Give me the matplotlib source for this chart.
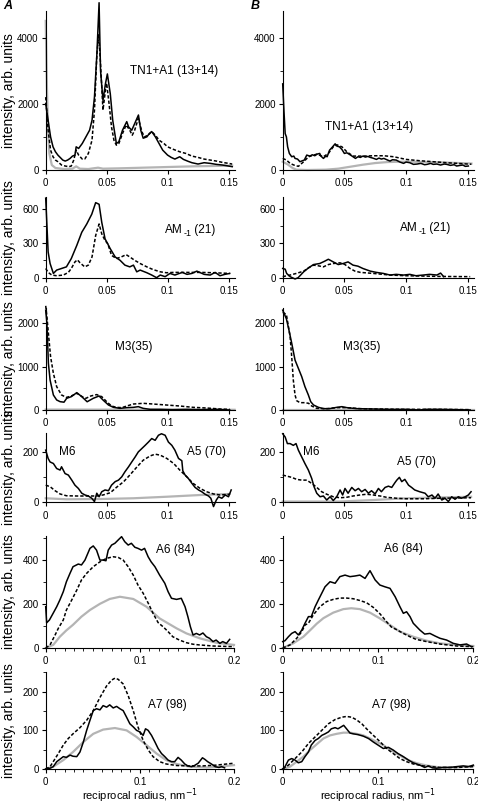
import matplotlib
matplotlib.use("Agg")
import matplotlib.pyplot as plt
from matplotlib.ticker import MultipleLocator, FixedLocator

plt.rcParams['font.family'] = ['Liberation Sans', 'DejaVu Sans']

# ---------------- data ----------------
# row 1: TN1+A1 (13+14)
A1_sol_x = [0, 0.002, 0.004, 0.006, 0.008, 0.010, 0.014, 0.016, 0.018, 0.020, 0.022, 0.024, 0.025, 0.027, 0.030,
            0.033, 0.036, 0.038, 0.040, 0.042, 0.0438, 0.045, 0.047, 0.049, 0.0506, 0.053, 0.055, 0.058, 0.060,
            0.063, 0.0665, 0.068, 0.0706, 0.073, 0.0761, 0.078, 0.080, 0.083, 0.085, 0.087, 0.090, 0.093, 0.096,
            0.100, 0.103, 0.106, 0.110, 0.113, 0.117, 0.120, 0.125, 0.130, 0.135, 0.140, 0.145, 0.150, 0.153]
A1_sol_y = [2000, 1500, 1000, 700, 550, 450, 300, 270, 300, 350, 420, 450, 700, 650, 800,
            1000, 1200, 1500, 2200, 3500, 5050, 3000, 2100, 2600, 2900, 2300, 1500, 800, 850,
            1200, 1460, 1300, 1200, 1400, 1660, 1200, 960, 1000, 1100, 1160, 1000, 800, 600,
            450, 380, 330, 400, 320, 260, 220, 180, 220, 200, 170, 150, 120, 100]
A1_das_x = [0, 0.002, 0.004, 0.006, 0.008, 0.010, 0.013, 0.016, 0.019, 0.021, 0.023, 0.025, 0.027, 0.030,
            0.032, 0.035, 0.038, 0.040, 0.042, 0.0435, 0.045, 0.047, 0.049, 0.050, 0.052, 0.054, 0.056, 0.058,
            0.060, 0.063, 0.066, 0.069, 0.071, 0.073, 0.076, 0.079, 0.081, 0.084, 0.087, 0.090, 0.093, 0.097,
            0.100, 0.105, 0.110, 0.115, 0.120, 0.125, 0.130, 0.135, 0.140, 0.145, 0.150, 0.153]
A1_das_y = [2200, 1200, 600, 400, 300, 250, 150, 120, 100, 120, 300, 600, 450, 330,
            330, 500, 900, 1800, 3500, 4080, 3200, 1810, 2400, 2620, 2000, 1300, 900, 750,
            800, 1100, 1360, 1200, 1050, 1200, 1560, 1150, 1000, 1050, 1160, 1050, 900, 800,
            700, 620, 550, 500, 420, 380, 330, 300, 270, 230, 200, 180]
A1_gry_x = [0, 0.001, 0.002, 0.003, 0.005, 0.008, 0.015, 0.022, 0.025, 0.028, 0.035, 0.043, 0.047, 0.060,
            0.080, 0.100, 0.120, 0.150, 0.153]
A1_gry_y = [4500, 2500, 1200, 500, 150, 60, 30, 40, 110, 40, 30, 70, 40, 50, 70, 90, 110, 130, 135]

B1_sol_x = [0, 0.001, 0.002, 0.003, 0.004, 0.0054, 0.0073, 0.009, 0.010, 0.012, 0.014, 0.016, 0.0175, 0.0195,
            0.022, 0.024, 0.026, 0.028, 0.030, 0.031, 0.033, 0.035, 0.036, 0.038, 0.040, 0.0425, 0.044, 0.046,
            0.048, 0.050, 0.052, 0.055, 0.057, 0.059, 0.061, 0.063, 0.065, 0.067, 0.069, 0.071, 0.073, 0.076,
            0.078, 0.080, 0.082, 0.085, 0.087, 0.089, 0.092, 0.095, 0.098, 0.100, 0.103, 0.106, 0.109, 0.112,
            0.115, 0.117, 0.120, 0.122, 0.125, 0.128, 0.131, 0.133, 0.136, 0.139, 0.141, 0.144, 0.146, 0.148,
            0.1505]
B1_sol_y = [2600, 1800, 1100, 1000, 700, 500, 400, 420, 350, 330, 250, 280, 300, 450,
            420, 460, 430, 480, 500, 420, 350, 420, 400, 600, 680, 790, 720, 700,
            620, 500, 520, 450, 400, 350, 400, 380, 420, 390, 410, 380, 360, 320,
            360, 330, 350, 300, 270, 310, 300, 240, 200, 240, 220, 170, 180, 200,
            160, 170, 200, 170, 180, 150, 180, 170, 140, 160, 120, 140, 150, 110,
            120]
B1_das_x = [0, 0.003, 0.006, 0.009, 0.0127, 0.017, 0.021, 0.0276, 0.033, 0.037, 0.041, 0.044, 0.048, 0.052,
            0.057, 0.065, 0.0735, 0.082, 0.090, 0.100, 0.111, 0.122, 0.133, 0.150, 0.153]
B1_das_y = [350, 300, 200, 150, 110, 250, 400, 480, 400, 500, 700, 760, 700, 550,
            420, 420, 430, 430, 400, 320, 280, 250, 220, 180, 175]
B1_gry_x = [0, 0.004, 0.008, 0.011, 0.020, 0.035, 0.045, 0.055, 0.065, 0.075, 0.085, 0.095, 0.105, 0.120,
            0.135, 0.150, 0.153]
B1_gry_y = [250, 170, 60, 10, 0, 10, 40, 100, 160, 210, 240, 250, 250, 240, 220, 200, 195]

# row 2: AM-1 (21)
A2_sol_x = [0, 0.002, 0.0036, 0.0063, 0.009, 0.013, 0.017, 0.021, 0.0255, 0.0296, 0.0337, 0.0378, 0.041,
            0.0438, 0.046, 0.0487, 0.053, 0.057, 0.061, 0.065, 0.069, 0.072, 0.0747, 0.0775, 0.083, 0.087,
            0.091, 0.094, 0.098, 0.102, 0.106, 0.112, 0.116, 0.120, 0.124, 0.130, 0.135, 0.139, 0.143, 0.147,
            0.151]
A2_sol_y = [690, 223, 123, 37, 66, 80, 94, 166, 280, 394, 466, 551, 651,
            637, 480, 337, 251, 180, 151, 109, 94, 109, 51, 66, 43, 23,
            0, 23, 9, 37, 23, 46, 29, 37, 57, 29, 23, 46, 17, 29,
            37]
A2_das_x = [0, 0.002, 0.005, 0.009, 0.0145, 0.0186, 0.021, 0.024, 0.026, 0.028, 0.032, 0.035, 0.038, 0.041,
            0.0438, 0.046, 0.0487, 0.051, 0.054, 0.058, 0.062, 0.066, 0.069, 0.073, 0.0775, 0.083, 0.088,
            0.094, 0.099, 0.105, 0.116, 0.127, 0.138, 0.151]
A2_das_y = [80, 46, 23, 17, 23, 46, 80, 137, 155, 131, 94, 109, 180, 366,
            466, 380, 323, 294, 194, 166, 180, 200, 180, 151, 123, 94, 71,
            51, 43, 46, 46, 46, 43, 37]

B2_sol_x = [0, 0.002, 0.0032, 0.006, 0.010, 0.0125, 0.017, 0.021, 0.025, 0.030, 0.034, 0.037, 0.041, 0.045,
            0.049, 0.053, 0.057, 0.061, 0.065, 0.071, 0.076, 0.0816, 0.087, 0.092, 0.098, 0.103, 0.108, 0.114,
            0.119, 0.125, 0.128, 0.1305]
B2_sol_y = [80, 74, 37, 9, -11, 0, 51, 86, 114, 123, 143, 160, 137, 114,
            123, 137, 109, 100, 80, 57, 46, 37, 23, 29, 23, 29, 17, 23,
            29, 23, 40, 9]
B2_das_x = [0, 0.006, 0.011, 0.017, 0.021, 0.025, 0.029, 0.033, 0.037, 0.041, 0.0465, 0.0505, 0.0546, 0.0586,
            0.063, 0.0735, 0.087, 0.100, 0.114, 0.1276, 0.152]
B2_das_y = [9, 23, 37, 57, 86, 109, 103, 94, 114, 123, 129, 114, 80, 57,
            46, 37, 23, 17, 14, 11, 9]

# row 3: M3(35)
A3_sol_x = [0, 0.001, 0.0022, 0.0036, 0.0063, 0.009, 0.0118, 0.015, 0.0172, 0.021, 0.0255, 0.0296, 0.034,
            0.039, 0.0438, 0.047, 0.0515, 0.0556, 0.061, 0.0665, 0.072, 0.076, 0.080, 0.0857, 0.094, 0.104,
            0.116, 0.127, 0.140, 0.151]
A3_sol_y = [2300, 2000, 1080, 690, 346, 231, 192, 180, 269, 307, 400, 307, 190,
            269, 323, 231, 115, 61, 38, 54, 61, 77, 38, 15, 15, 8,
            15, 8, 15, 0]
A3_das_x = [0, 0.001, 0.0022, 0.004, 0.0063, 0.009, 0.013, 0.017, 0.021, 0.0255, 0.030, 0.033, 0.037,
            0.0419, 0.046, 0.050, 0.054, 0.058, 0.0625, 0.0665, 0.072, 0.080, 0.088, 0.099, 0.110, 0.121,
            0.132, 0.143, 0.151]
A3_das_y = [2400, 2150, 1770, 1230, 846, 538, 346, 290, 323, 385, 307, 269, 323,
            355, 307, 192, 92, 61, 54, 92, 138, 154, 138, 115, 92, 61,
            46, 23, 15]
A3_gry_x = [0, 0.155]
A3_gry_y = [10, 5]

B3_sol_x = [0, 0.003, 0.005, 0.0073, 0.010, 0.0127, 0.0154, 0.018, 0.0208, 0.0227, 0.025, 0.029, 0.033,
            0.038, 0.0438, 0.048, 0.052, 0.060, 0.0735, 0.087, 0.100, 0.111, 0.116, 0.127, 0.141, 0.152]
B3_sol_y = [2300, 2100, 1850, 1540, 1150, 960, 770, 540, 346, 192, 115, 61, 31,
            31, 61, 77, 54, 31, 23, 15, 15, 0, 15, 15, 8, 0]
B3_das_x = [0, 0.003, 0.006, 0.0073, 0.0086, 0.010, 0.0113, 0.014, 0.018, 0.021, 0.0235, 0.0276, 0.036,
            0.0438, 0.052, 0.063, 0.0735, 0.100, 0.1276, 0.152]
B3_das_y = [2250, 2200, 1690, 1230, 690, 346, 215, 169, 169, 154, 92, 38, 31,
            54, 54, 31, 23, 15, 15, 8]
B3_gry_x = [0, 0.155]
B3_gry_y = [5, 5]

# row 4: M6 / A5 (70)
A4_sol_x = [0, 0.002, 0.0036, 0.0063, 0.009, 0.0118, 0.013, 0.0159, 0.0186, 0.0214, 0.024, 0.0268, 0.0296,
            0.0323, 0.035, 0.0378, 0.040, 0.0419, 0.0438, 0.046, 0.0487, 0.0515, 0.054, 0.057, 0.0597, 0.0624,
            0.065, 0.068, 0.0706, 0.0734, 0.076, 0.0788, 0.0816, 0.0843, 0.087, 0.0898, 0.0925, 0.095, 0.098,
            0.1007, 0.1035, 0.106, 0.109, 0.1117, 0.1125, 0.1144, 0.117, 0.120, 0.1226, 0.1254, 0.128, 0.1308,
            0.1336, 0.1355, 0.1377, 0.140, 0.1418, 0.1445, 0.1473, 0.150, 0.1522]
A4_sol_y = [207, 174, 160, 154, 134, 128, 141, 114, 108, 88, 68, 55, 36,
            29, 25, 16, 3, 36, 22, 42, 49, 46, 68, 82, 88, 101,
            121, 141, 160, 180, 200, 213, 226, 239, 253, 246, 266, 272, 266,
            239, 226, 207, 174, 165, 125, 108, 95, 75, 59, 49, 42, 32,
            25, 16, -17, 9, 22, 16, 29, 22, 49]
A4_das_x = [0, 0.0036, 0.0077, 0.0118, 0.017, 0.0255, 0.034, 0.042, 0.047, 0.053, 0.058, 0.064, 0.069,
            0.075, 0.080, 0.0857, 0.0898, 0.094, 0.0994, 0.105, 0.110, 0.1158, 0.121, 0.1267, 0.132, 0.1377,
            0.143, 0.151]
A4_das_y = [68, 62, 46, 33, 26, 25, 25, 25, 29, 38, 59, 82, 108,
            141, 167, 184, 191, 187, 174, 154, 128, 101, 75, 55, 42, 33,
            29, 32]
A4_gry_x = [0, 0.017, 0.045, 0.072, 0.099, 0.127, 0.151]
A4_gry_y = [16, 12, 13, 16, 22, 29, 33]

B4_sol_x = [0, 0.002, 0.0038, 0.006, 0.0086, 0.0108, 0.0127, 0.0154, 0.018, 0.0208, 0.0235, 0.0254, 0.0276,
            0.0303, 0.033, 0.0357, 0.0384, 0.041, 0.0438, 0.0465, 0.0486, 0.0505, 0.053, 0.056, 0.0587, 0.0614,
            0.064, 0.0668, 0.0695, 0.072, 0.0749, 0.0776, 0.080, 0.083, 0.0857, 0.0884, 0.091, 0.0925, 0.0946,
            0.0965, 0.099, 0.102, 0.1045, 0.107, 0.111, 0.1154, 0.118, 0.121, 0.1235, 0.126, 0.129, 0.1316,
            0.1343, 0.137, 0.1397, 0.1424, 0.145, 0.148, 0.1505, 0.1527]
B4_sol_y = [272, 259, 233, 233, 226, 233, 207, 180, 154, 128, 95, 62, 36,
            22, 25, 9, 22, 7, 22, 49, 29, 55, 36, 59, 46, 55,
            42, 51, 36, 46, 33, 55, 42, 59, 64, 59, 78, 88, 99,
            82, 91, 68, 59, 49, 42, 36, 22, 29, 16, 33, 9, 16,
            3, 22, 12, 22, 16, 22, 29, 42]
B4_das_x = [0, 0.0032, 0.0073, 0.0113, 0.0154, 0.0195, 0.0235, 0.0276, 0.0316, 0.0357, 0.041, 0.0465, 0.052,
            0.057, 0.0627, 0.068, 0.0735, 0.079, 0.084, 0.0924, 0.100, 0.114, 0.1276, 0.141, 0.1527]
B4_das_y = [108, 104, 99, 91, 88, 88, 75, 59, 42, 32, 22, 18, 20,
            25, 29, 32, 29, 25, 20, 16, 14, 14, 16, 17, 18]
B4_gry_x = [0, 0.046, 0.0735, 0.100, 0.1527]
B4_gry_y = [3, 3, 9, 16, 22]

# row 5: A6 (84)
A5_sol_x = [0, 0.001, 0.004, 0.008, 0.0117, 0.015, 0.0187, 0.022, 0.0258, 0.029, 0.0346, 0.038, 0.0417,
            0.047, 0.0505, 0.054, 0.0576, 0.061, 0.064, 0.0664, 0.070, 0.0735, 0.077, 0.0806, 0.084, 0.0876,
            0.091, 0.0947, 0.098, 0.1018, 0.105, 0.1088, 0.112, 0.116, 0.121, 0.1265, 0.130, 0.1336, 0.139,
            0.144, 0.148, 0.151, 0.1537, 0.1565, 0.160, 0.1635, 0.167, 0.1707, 0.174, 0.1777, 0.181, 0.185,
            0.188, 0.192, 0.1954]
A5_sol_y = [187, 114, 127, 158, 187, 217, 255, 300, 338, 368, 380, 376, 398,
            451, 462, 443, 398, 398, 395, 443, 466, 474, 489, 504, 481, 466,
            474, 456, 451, 443, 451, 413, 390, 368, 330, 293, 255, 225, 220,
            225, 187, 142, 96, 59, 66, 59, 68, 51, 44, 29, 36, 21,
            29, 21, 39]
A5_das_x = [0, 0.0046, 0.010, 0.0134, 0.0187, 0.022, 0.0276, 0.033, 0.038, 0.0435, 0.0505, 0.0576, 0.0647,
            0.0717, 0.077, 0.0823, 0.0876, 0.093, 0.098, 0.1035, 0.109, 0.114, 0.1194, 0.125, 0.130, 0.135,
            0.142, 0.1495, 0.1565, 0.163, 0.178, 0.200]
A5_das_y = [0, 14, 59, 89, 127, 172, 217, 262, 308, 338, 368, 390, 406,
            413, 410, 398, 368, 330, 285, 248, 202, 157, 115, 95, 74, 51,
            36, 24, 17, 14, 9, 6]
A5_gry_x = [0, 0.008, 0.015, 0.022, 0.029, 0.038, 0.047, 0.0576, 0.068, 0.0788, 0.093, 0.107, 0.121,
            0.139, 0.1495, 0.1636, 0.181, 0.200]
A5_gry_y = [0, 14, 51, 80, 105, 142, 172, 200, 222, 232, 222, 187, 134,
            89, 66, 44, 24, 14]

B5_sol_x = [0, 0.0024, 0.006, 0.0094, 0.013, 0.0164, 0.020, 0.0234, 0.027, 0.030, 0.034, 0.0374, 0.041,
            0.0444, 0.0497, 0.055, 0.060, 0.0654, 0.0706, 0.0759, 0.081, 0.0864, 0.0916, 0.097, 0.102, 0.1073,
            0.1126, 0.118, 0.123, 0.1266, 0.130, 0.1336, 0.137, 0.1406, 0.144, 0.149, 0.1545, 0.160, 0.165,
            0.172, 0.179, 0.186, 0.193, 0.198]
B5_sol_y = [29, 33, 51, 66, 74, 59, 81, 112, 142, 142, 187, 217, 248,
            277, 300, 293, 323, 330, 323, 326, 330, 315, 350, 308, 285, 277,
            270, 232, 187, 157, 164, 142, 112, 96, 81, 63, 66, 54, 44,
            36, 21, 14, 18, 6]
B5_das_x = [0, 0.0077, 0.0147, 0.020, 0.0234, 0.027, 0.032, 0.039, 0.046, 0.053, 0.060, 0.067, 0.074,
            0.081, 0.088, 0.095, 0.102, 0.109, 0.114, 0.120, 0.1266, 0.1336, 0.140, 0.151, 0.165, 0.1825,
            0.200]
B5_das_y = [0, 14, 44, 74, 104, 112, 149, 187, 210, 220, 226, 226, 223,
            215, 205, 184, 155, 119, 95, 82, 66, 51, 39, 29, 18, 9,
            6]
B5_gry_x = [0, 0.011, 0.0217, 0.0287, 0.0357, 0.0427, 0.053, 0.0636, 0.072, 0.081, 0.0916, 0.102, 0.1126,
            0.123, 0.137, 0.151, 0.165, 0.1825, 0.200]
B5_gry_y = [0, 21, 51, 80, 110, 135, 160, 176, 180, 176, 160, 134, 104,
            74, 51, 33, 21, 14, 9]

# row 6: A7 (98)
A6_sol_x = [0, 0.0046, 0.008, 0.0117, 0.015, 0.0187, 0.022, 0.0258, 0.029, 0.033, 0.0364, 0.040, 0.0435,
            0.047, 0.0505, 0.054, 0.0576, 0.061, 0.0647, 0.068, 0.0717, 0.0753, 0.0788, 0.0823, 0.0859, 0.0894,
            0.093, 0.0965, 0.100, 0.1035, 0.106, 0.1088, 0.1124, 0.116, 0.1194, 0.123, 0.1265, 0.130, 0.1336,
            0.137, 0.1406, 0.144, 0.1477, 0.151, 0.155, 0.158, 0.162, 0.1665, 0.169, 0.172, 0.176, 0.180,
            0.184, 0.187, 0.190]
A6_sol_y = [0, 2, 6, 19, 25, 32, 30, 36, 33, 32, 44, 70, 100,
            126, 151, 156, 153, 164, 160, 166, 158, 162, 156, 151, 134, 117,
            109, 100, 96, 87, 104, 100, 87, 70, 53, 40, 32, 23, 19,
            19, 30, 23, 13, 8, 6, 9, 15, 29, 25, 19, 13, 6,
            4, 6, 3]
A6_das_x = [0, 0.0046, 0.008, 0.0134, 0.0187, 0.024, 0.029, 0.0364, 0.0435, 0.0505, 0.0576, 0.0647, 0.070,
            0.0735, 0.077, 0.0823, 0.0876, 0.093, 0.098, 0.1035, 0.109, 0.114, 0.121, 0.128, 0.139, 0.153,
            0.167, 0.181, 0.200]
A6_das_y = [0, 6, 19, 40, 62, 79, 91, 107, 126, 151, 185, 215, 230,
            235, 232, 220, 190, 151, 109, 74, 49, 32, 19, 13, 9, 8,
            8, 10, 15]
A6_gry_x = [0, 0.008, 0.0187, 0.029, 0.040, 0.0505, 0.061, 0.0735, 0.0859, 0.0965, 0.107, 0.1177, 0.128,
            0.139, 0.153, 0.171, 0.185, 0.200]
A6_gry_y = [0, 6, 23, 44, 70, 91, 102, 106, 100, 83, 62, 40, 23,
            13, 6, 4, 6, 10]

B6_sol_x = [0, 0.0024, 0.006, 0.0094, 0.013, 0.0164, 0.020, 0.0234, 0.027, 0.030, 0.034, 0.0374, 0.041,
            0.0444, 0.048, 0.051, 0.055, 0.058, 0.062, 0.064, 0.067, 0.0706, 0.074, 0.079, 0.0846, 0.090,
            0.095, 0.100, 0.1056, 0.111, 0.116, 0.121, 0.1266, 0.132, 0.137, 0.144, 0.149, 0.153, 0.157,
            0.1615, 0.168, 0.1755, 0.182, 0.1895, 0.195, 0.200]
B6_sol_y = [0, 6, 23, 27, 23, 16, 19, 32, 44, 62, 74, 79, 87,
            91, 96, 104, 107, 104, 110, 113, 104, 93, 91, 89, 85, 79,
            70, 62, 53, 56, 49, 40, 32, 23, 16, 10, 4, 8, 3,
            2, 4, 4, 6, 8, 6, 10]
B6_das_x = [0, 0.006, 0.013, 0.020, 0.027, 0.034, 0.041, 0.048, 0.055, 0.062, 0.067, 0.0724, 0.0776,
            0.083, 0.088, 0.0934, 0.0986, 0.104, 0.109, 0.116, 0.123, 0.130, 0.137, 0.1475, 0.165, 0.1825,
            0.200]
B6_das_y = [0, 10, 27, 44, 66, 83, 100, 117, 128, 134, 136, 134, 127,
            117, 104, 91, 79, 66, 53, 40, 27, 19, 13, 8, 4, 4,
            6]
B6_gry_x = [0, 0.0077, 0.0147, 0.0217, 0.0287, 0.0357, 0.0427, 0.0497, 0.0566, 0.0636, 0.0706, 0.0776,
            0.0846, 0.0916, 0.0986, 0.1056, 0.1126, 0.1196, 0.1266, 0.1336, 0.1406, 0.151, 0.165, 0.1825, 0.200]
B6_gry_y = [0, 6, 19, 32, 49, 64, 79, 87, 91, 94, 94, 91,
            87, 79, 70, 62, 49, 40, 30, 21, 15, 9, 4, 4, 8]

titles = ['TN1+A1 (13+14)', None, 'M3(35)', 'A5 (70)', 'A6 (84)', 'A7 (98)']
ylims = [4800, 700, 2350, 275, 507, 251]
ymajor = [2000, 300, 1000, 200, 200, 100]
yminor = [1000, 150, 500, 100, 100, 50]

# ---------------- layout (pixels) ----------------
W, H = 478, 802
fig = plt.figure(figsize=(W / 100, H / 100), dpi=100)

row_px = [(11, 170), (197, 277.7), (308, 410), (433, 502.3), (536, 648), (672, 769)]
col_px = [(45.7, 188.9, 188.3), (282.7, 191.2, 190.6)]
FS = 8.5

def px_axes(x0, w, top, bot):
    return fig.add_axes([x0 / W, 1 - bot / H, w / W, (bot - top) / H])

def ftext(x, y, s, size=FS, **kw):
    return fig.text(x / W, 1 - y / H, s, fontsize=size, va='center', ha='left', **kw)

BLACK = '#000000'
GREY = '#b4b4b4'

panels = {
    (0, 0): [(A1_gry_x, A1_gry_y, 'g'), (A1_das_x, A1_das_y, 'd'), (A1_sol_x, A1_sol_y, 's')],
    (0, 1): [(B1_gry_x, B1_gry_y, 'g'), (B1_das_x, B1_das_y, 'd'), (B1_sol_x, B1_sol_y, 's')],
    (1, 0): [(A2_das_x, A2_das_y, 'd'), (A2_sol_x, A2_sol_y, 's')],
    (1, 1): [(B2_das_x, B2_das_y, 'd'), (B2_sol_x, B2_sol_y, 's')],
    (2, 0): [(A3_gry_x, A3_gry_y, 'g'), (A3_das_x, A3_das_y, 'd'), (A3_sol_x, A3_sol_y, 's')],
    (2, 1): [(B3_gry_x, B3_gry_y, 'g'), (B3_das_x, B3_das_y, 'd'), (B3_sol_x, B3_sol_y, 's')],
    (3, 0): [(A4_gry_x, A4_gry_y, 'g'), (A4_das_x, A4_das_y, 'd'), (A4_sol_x, A4_sol_y, 's')],
    (3, 1): [(B4_gry_x, B4_gry_y, 'g'), (B4_das_x, B4_das_y, 'd'), (B4_sol_x, B4_sol_y, 's')],
    (4, 0): [(A5_gry_x, A5_gry_y, 'g'), (A5_das_x, A5_das_y, 'd'), (A5_sol_x, A5_sol_y, 's')],
    (4, 1): [(B5_gry_x, B5_gry_y, 'g'), (B5_das_x, B5_das_y, 'd'), (B5_sol_x, B5_sol_y, 's')],
    (5, 0): [(A6_gry_x, A6_gry_y, 'g'), (A6_das_x, A6_das_y, 'd'), (A6_sol_x, A6_sol_y, 's')],
    (5, 1): [(B6_gry_x, B6_gry_y, 'g'), (B6_das_x, B6_das_y, 'd'), (B6_sol_x, B6_sol_y, 's')],
}

for (r, c), curves in panels.items():
    top, bot = row_px[r]
    x0, w_small, w_big = col_px[c]
    wide = r >= 4
    ax = px_axes(x0, w_big if wide else w_small, top, bot)
    for xs, ys, kind in curves:
        if kind == 'g':
            ax.plot(xs, ys, color=GREY, lw=1.6, clip_on=False, zorder=1)
        elif kind == 'd':
            ax.plot(xs, ys, color=BLACK, lw=1.1, ls=(0, (2.2, 1.3)), clip_on=False, zorder=2)
        else:
            ax.plot(xs, ys, color=BLACK, lw=1.1, clip_on=False, zorder=3)
    ax.set_ylim(0, ylims[r])
    ax.yaxis.set_major_locator(MultipleLocator(ymajor[r]))
    ax.yaxis.set_minor_locator(MultipleLocator(yminor[r]))
    if wide:
        ax.set_xlim(0, 0.2)
        ax.xaxis.set_major_locator(FixedLocator([0, 0.1, 0.2]))
        ax.set_xticklabels(['0', '0.1', '0.2'])
        ax.xaxis.set_minor_locator(MultipleLocator(0.01))
    else:
        ax.set_xlim(0, 0.155)
        ax.xaxis.set_major_locator(FixedLocator([0, 0.05, 0.1, 0.15]))
        ax.set_xticklabels(['0', '0.05', '0.1', '0.15'])
    for s in ['top', 'right']:
        ax.spines[s].set_visible(False)
    for s in ['left', 'bottom']:
        ax.spines[s].set_linewidth(0.8)
    ax.tick_params(which='major', direction='out', length=3, width=0.8, labelsize=7, pad=2)
    ax.tick_params(which='minor', direction='out', length=2, width=0.6)
    ax.tick_params(axis='x', which='major', pad=3)
    ax.patch.set_visible(False)
    if c == 0:
        ax.set_ylabel('intensity, arb. units', fontsize=10)
        ax.yaxis.set_label_coords(-30 / 188.9, 0.5)
    if r == 5:
        ax.set_xlabel('reciprocal radius, nm$^{-1}$', fontsize=8)
        ax.xaxis.set_label_coords(0.5, -0.18)

# panel annotations
ftext(130, 70.7, titles[0]); ftext(325, 127, titles[0])
for xl, yl in [(165, 230), (400, 228)]:
    t = ftext(xl, yl, 'AM')
    fig.canvas.draw()
    bb = t.get_window_extent()
    t2 = ftext(bb.x1 + 0.5, yl + 3, '-1', size=6.5)
    fig.canvas.draw()
    bb2 = t2.get_window_extent()
    ftext(bb2.x1, yl, ' (21)')
ftext(115, 347, titles[2]); ftext(343, 347, titles[2])
ftext(59, 452, 'M6'); ftext(303, 452, 'M6')
ftext(187, 452, titles[3]); ftext(397, 462, titles[3])
ftext(156, 550, titles[4]); ftext(384, 549, titles[4])
ftext(148, 705, titles[5]); ftext(372, 705, titles[5])

ftext(3, 6, 'A', size=9, fontweight='bold', fontstyle='italic')
ftext(251, 6, 'B', size=9, fontweight='bold', fontstyle='italic')

fig.savefig('out.png', dpi=100)
